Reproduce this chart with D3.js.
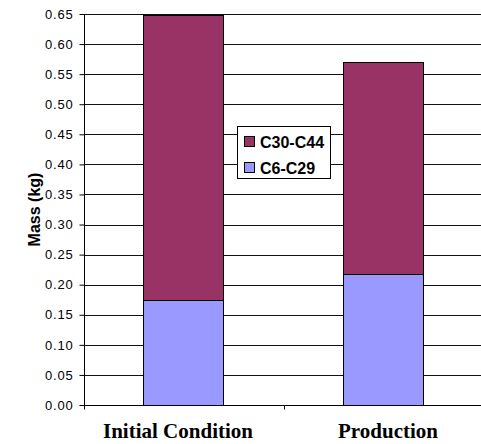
<!DOCTYPE html>
<html><head><meta charset="utf-8">
<script src="https://cdn.jsdelivr.net/npm/d3@7"></script>
<style>body{margin:0;background:#fff}svg{display:block}</style>
</head><body>
<svg id="c" width="481" height="444"></svg>
<script>
const categories = ["Initial Condition", "Production"];
const seriesNames = ["C6-C29", "C30-C44"];
const c6c29 = [0.175, 0.218];
const c30c44 = [0.473, 0.352];
const yTicks = [0,0.05,0.10,0.15,0.20,0.25,0.30,0.35,0.40,0.45,0.50,0.55,0.60,0.65];
const colors = {"C6-C29":"#9999FF","C30-C44":"#993366"};

const svg = d3.select("#c");
const x = d3.scaleBand().domain(categories).range([84,484]).paddingInner(0.6).paddingOuter(0.3);
const y = d3.scaleLinear().domain([0,0.65]).range([405,14]);

const rows = categories.map((c,i)=>({cat:c,"C6-C29":c6c29[i],"C30-C44":c30c44[i]}));
const stacked = d3.stack().keys(seriesNames)(rows);

// gridlines
svg.append("g").selectAll("line").data(yTicks.filter(d=>d>0)).join("line")
  .attr("x1",84).attr("x2",481)
  .attr("y1",d=>Math.round(y(d))+0.5).attr("y2",d=>Math.round(y(d))+0.5)
  .attr("stroke","#111").attr("stroke-width",1);

// bars
svg.append("g").selectAll("g").data(stacked).join("g")
  .attr("fill",d=>colors[d.key])
  .selectAll("rect").data(d=>d).join("rect")
  .attr("x",d=>x(d.data.cat)-0.5)
  .attr("width",x.bandwidth())
  .attr("y",d=>Math.round(y(d[1]))+0.5)
  .attr("height",d=>Math.round(y(d[0]))-Math.round(y(d[1])))
  .attr("stroke","#000").attr("stroke-width",1);

// y axis
const yAxis = d3.axisLeft(y).tickValues(yTicks).tickFormat(d3.format(".2f")).tickSize(5).tickPadding(6);
const gy = svg.append("g").attr("transform","translate(84.5,0)").call(yAxis);
gy.select(".domain").attr("d","M0,"+y(0.65)+"V"+(y(0)+0.5)).attr("stroke","#000");
gy.selectAll(".tick line").attr("stroke","#000");
gy.selectAll(".tick text").attr("font-family","Liberation Sans, Arial, sans-serif")
  .attr("font-size","13px").attr("letter-spacing","0.8px").attr("fill","#000");

// x axis
const gx = svg.append("g").attr("transform","translate(0,405.5)");
gx.append("line").attr("x1",84).attr("x2",481).attr("y1",0).attr("y2",0).attr("stroke","#000");
const bounds = [84, 284, 484];
gx.selectAll("line.t").data(bounds).join("line").attr("class","t")
  .attr("x1",d=>d+0.5).attr("x2",d=>d+0.5).attr("y1",0).attr("y2",4).attr("stroke","#000");
svg.append("g").selectAll("text").data(categories).join("text")
  .attr("x",(d,i)=>x(d)+x.bandwidth()/2 + (i===0?-6:4))
  .attr("y",438)
  .attr("text-anchor","middle")
  .attr("font-family","Liberation Serif, Times New Roman, serif")
  .attr("font-weight","bold").attr("font-size","21px")
  .text(d=>d);

// y title
svg.append("text").attr("transform","translate(40,209.5) rotate(-90)")
  .attr("text-anchor","middle")
  .attr("font-family","Liberation Sans, Arial, sans-serif")
  .attr("font-weight","bold").attr("font-size","16px")
  .text("Mass (kg)");

// legend
const lg = svg.append("g");
lg.append("rect").attr("x",237.5).attr("y",126.5).attr("width",93).attr("height",52)
  .attr("fill","#fff").attr("stroke","#000");
const legendItems = ["C30-C44","C6-C29"];
legendItems.forEach((k,i)=>{
  const cy = 142 + i*26;
  lg.append("rect").attr("x",244.5).attr("y",cy-5.5).attr("width",10).attr("height",10)
    .attr("fill",colors[k]).attr("stroke","#000");
  lg.append("text").attr("x",260).attr("y",cy+6)
    .attr("font-family","Liberation Sans, Arial, sans-serif")
    .attr("font-weight","bold").attr("font-size","16px").text(k);
});
</script>
</body></html>
